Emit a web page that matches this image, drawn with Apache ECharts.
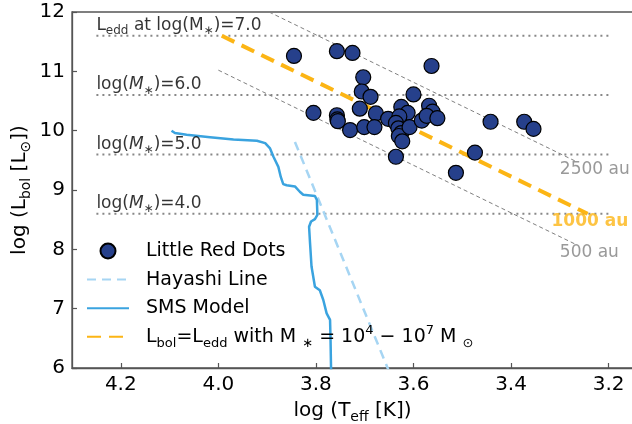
<!DOCTYPE html>
<html><head><meta charset="utf-8">
<script src="https://cdn.jsdelivr.net/npm/echarts@6/dist/echarts.min.js"></script>
<style>html,body{margin:0;padding:0;background:#fff}#c{width:632px;height:424px}</style>
</head><body><div id="c"></div>
<script>
// Little Red Dots (log Teff, log Lbol)
const lrdT = [3.845,3.757,3.725,3.563,3.703,3.706,3.688,3.600,3.805,3.757,3.756,3.755,3.710,3.677,3.730,3.701,3.680,3.652,3.625,3.612,3.629,3.636,3.631,3.625,3.630,3.623,3.608,3.583,3.568,3.561,3.573,3.551,3.442,3.373,3.354,3.474,3.636,3.513];
const lrdL = [11.26,11.34,11.31,11.09,10.90,10.66,10.57,10.61,10.30,10.26,10.19,10.16,10.37,10.29,10.01,10.06,10.06,10.20,10.40,10.30,10.24,10.13,10.04,9.96,9.91,9.82,10.06,10.17,10.42,10.32,10.25,10.21,10.15,10.15,10.03,9.63,9.56,9.29];
// SMS model track
const smsT = [4.096,4.089,4.065,4.017,3.969,3.921,3.904,3.894,3.887,3.877,3.872,3.867,3.860,3.843,3.833,3.826,3.802,3.798,3.797,3.802,3.810,3.814,3.812,3.809,3.802,3.792,3.785,3.778,3.771,3.770,3.769,3.768];
const smsL = [10.00,9.96,9.93,9.89,9.85,9.83,9.79,9.70,9.56,9.39,9.22,9.10,9.08,9.06,8.97,8.92,8.90,8.83,8.58,8.51,8.47,8.38,8.10,7.71,7.37,7.31,7.15,6.92,6.81,6.47,6.00,5.80];
// Hayashi line
const hayT = [3.843,3.648];
const hayL = [9.81,5.90];
// Eddington luminosity levels and their labels
const massLevels = [11.6,10.6,9.6,8.6];
const massRange = [4.25,3.2];
const massLabels = ['L{sub|edd} at log(M{sub|∗})=7.0','log({it|M}{sub|∗})=6.0','log({it|M}{sub|∗})=5.0','log({it|M}{sub|∗})=4.0'];
const massLabelY = [11.77,10.77,9.77,8.77];
// constant-radius lines (endpoints)
const r2500T = [3.896,3.269], r2500L = [12.0,9.49];
const r1000T = [3.993,3.243], r1000L = [11.6,8.6];
const r500T = [4.0,3.269], r500L = [11.02,8.09];
const auLabels = ['2500 au','1000 au','500 au'];
const auLabelT = [3.300,3.317,3.300];
const auLabelL = [9.35,8.47,7.95];
// ticks
const xTicks = [4.2,4.0,3.8,3.6,3.4,3.2];
const yTicks = [6,7,8,9,10,11,12];

const FF = 'DejaVu Sans';
const pair = (a,b)=>a.map((v,i)=>[v,b[i]]);
const subRich = (fs)=>({
  sub:{fontFamily:FF,fontSize:Math.round(fs*0.7),lineHeight:Math.round(fs*0.7),verticalAlign:'bottom'},
  sup:{fontFamily:FF,fontSize:Math.round(fs*0.7),lineHeight:Math.round(fs*0.7),verticalAlign:'top'},
  it:{fontFamily:FF,fontSize:fs,fontStyle:'italic',lineHeight:Math.round(fs*1.35)}
});

const series = [];
massLevels.forEach((lv,i)=>{
  series.push({type:'line',name:'m'+i,silent:true,symbol:'none',z:1,
    data:[[massRange[0],lv],[massRange[1],lv]],
    lineStyle:{color:'#888',width:2,type:[2,4]}});
});
series.push({type:'line',name:'r2500',silent:true,symbol:'none',z:1,data:pair(r2500T,r2500L),lineStyle:{color:'#808080',width:1,type:[4,3]}});
series.push({type:'line',name:'r500',silent:true,symbol:'none',z:1,data:pair(r500T,r500L),lineStyle:{color:'#808080',width:1,type:[4,3]}});
series.push({type:'line',name:'Ledd',symbol:'none',z:2,data:pair(r1000T,r1000L),lineStyle:{color:'#FCB515',width:4,type:[14,8]},itemStyle:{color:'#FCB515'}});
series.push({type:'line',name:'Hayashi Line',symbol:'none',z:2,data:pair(hayT,hayL),lineStyle:{color:'#A6D5F3',width:2.5,type:[9,6]},itemStyle:{color:'#A6D5F3'}});
series.push({type:'line',name:'SMS Model',symbol:'none',z:3,data:pair(smsT,smsL),lineStyle:{color:'#3AA3DF',width:2.5},itemStyle:{color:'#3AA3DF'}});
series.push({type:'scatter',name:'Little Red Dots',z:5,symbol:'circle',symbolSize:15,data:pair(lrdT,lrdL),
  itemStyle:{color:'#26408B',borderColor:'#000',borderWidth:1.2,opacity:1}});
// annotations
const annData = massLabels.map((t,i)=>({value:[massRange[0],massLabelY[i]],label:{formatter:t}}));
auLabels.forEach((t,i)=>annData.push({value:[auLabelT[i],auLabelL[i]],label:{formatter:t,
  color: i===1?'#FCB515':'#808080', fontWeight: i===1?'bold':'normal'}}));
series.push({type:'scatter',name:'ann',silent:true,symbolSize:0,z:6,data:annData,
  label:{show:true,position:'right',distance:0,fontFamily:FF,fontSize:17,color:'#000',lineHeight:23,rich:subRich(17)}});

const legendNames = {'Little Red Dots':'Little Red Dots','Hayashi Line':'Hayashi Line','SMS Model':'SMS Model',
  'Ledd':'L{sub|bol}=L{sub|edd} with M {sub|∗} = 10{sup|4} − 10{sup|7} M {sub|⊙}'};
const noSym = {color:'rgba(0,0,0,0)',borderWidth:0,opacity:0};

const chart = echarts.init(document.getElementById('c'),null,{renderer:'canvas'});
chart.setOption({
  animation:false,
  backgroundColor:'#fff',
  grid:{left:72,right:-1,top:12,bottom:56,containLabel:false,outerBoundsMode:'none',show:true,borderColor:'#555',borderWidth:1.3,backgroundColor:'transparent'},
  legend:{
    data:[{name:'Little Red Dots'},{name:'Hayashi Line',itemStyle:noSym},{name:'SMS Model',itemStyle:noSym},{name:'Ledd',itemStyle:noSym}],
    orient:'vertical',left:86,top:238,padding:0,itemWidth:42,itemHeight:15,itemGap:2.6,
    formatter:(n)=>legendNames[n],
    textStyle:{fontFamily:FF,fontSize:19,color:'#000',lineHeight:26,padding:[0,0,0,12],rich:subRich(19)},
    selectedMode:false
  },
  xAxis:{type:'value',inverse:true,min:3.15,max:4.3,
    name:'log (T{sub|eff} [K])',nameLocation:'middle',nameGap:29,nameMoveOverlap:false,
    nameTextStyle:{fontFamily:FF,fontSize:20,color:'#000',lineHeight:27,rich:subRich(20)},
    axisLine:{lineStyle:{color:'#555',width:1.3}},
    axisTick:{inside:true,length:5,customValues:xTicks,lineStyle:{color:'#555',width:1.2}},
    axisLabel:{customValues:xTicks,formatter:(v)=>v.toFixed(1),fontFamily:FF,fontSize:20,color:'#000',margin:7},
    splitLine:{show:false}},
  yAxis:{type:'value',min:6,max:12,
    name:'log ({n|L}{sub|bol} [L{sub|⊙}])',nameLocation:'middle',nameGap:39,nameMoveOverlap:false,
    nameTextStyle:{fontFamily:FF,fontSize:20,color:'#000',lineHeight:27,rich:Object.assign({n:{fontFamily:FF,fontSize:20,lineHeight:27}},subRich(20))},
    axisLine:{lineStyle:{color:'#555',width:1.3}},
    axisTick:{inside:true,length:5,customValues:yTicks,lineStyle:{color:'#555',width:1.2}},
    axisLabel:{customValues:yTicks,fontFamily:FF,fontSize:20,color:'#000',margin:7},
    splitLine:{show:false}},
  series:series
});
</script></body></html>
